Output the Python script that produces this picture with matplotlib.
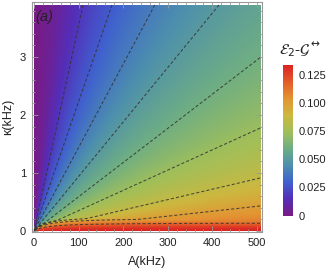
import numpy as np
import matplotlib
matplotlib.use("Agg")
import matplotlib.pyplot as plt
from matplotlib.colors import LinearSegmentedColormap

# ---- data ----
# field value versus the ratio kappa/A (read from contour positions and colours)
ratio_pts = [1e-6, 2.5e-4, 8.5e-4, 1.8e-3, 3.5e-3, 5.9e-3, 9.4e-3,
             1.44e-2, 2.23e-2, 3.55e-2, 6.5e-2, 0.1, 0.3, 10.0]
ratio_vals = [0.133, 0.113, 0.100, 0.086, 0.073, 0.061, 0.050,
              0.039, 0.028, 0.018, 0.008, 0.004, 0.001, 0.0]
# saturation band near kappa = 0 (thins out towards A = 0)
kappa_pts = [0.0, 0.04, 0.08, 0.14, 0.25, 0.4]
kappa_vals = [0.134, 0.131, 0.126, 0.115, 0.095, 0.0]
band_A0 = 30.0
contour_levels = [0.018, 0.028, 0.039, 0.050, 0.061, 0.073, 0.086, 0.100, 0.115]
A_range = [0, 507]
kappa_range = [0, 3.9]
x_ticks = [0, 100, 200, 300, 400, 500]
y_ticks = [0, 1, 2, 3]
cbar_ticks = [0, 0.025, 0.05, 0.075, 0.1, 0.125]
cbar_labels = ["0", "0.025", "0.050", "0.075", "0.100", "0.125"]
vmin, vmax = 0.0, 0.134

rainbow = [(0.471412, 0.108766, 0.527016), (0.33, 0.18, 0.72),
           (0.25, 0.38, 0.81), (0.30, 0.56, 0.68), (0.43, 0.68, 0.52),
           (0.63, 0.75, 0.35), (0.80, 0.72, 0.25), (0.89, 0.58, 0.20),
           (0.89, 0.36, 0.16), (0.857359, 0.131106, 0.132128)]
cmap = LinearSegmentedColormap.from_list("mma_rainbow", rainbow)

plt.rcParams['font.family'] = ['Liberation Sans', 'DejaVu Sans']

A = np.linspace(A_range[0], A_range[1], 600)
K = np.linspace(kappa_range[0], kappa_range[1], 600)
AA, KK = np.meshgrid(A, K)
Asafe = np.maximum(AA, 1e-9)
r = np.clip(KK / Asafe, 1e-6, 1e3)
Zr = np.interp(np.log10(r), np.log10(ratio_pts), ratio_vals)
k_eff = np.clip(KK * (1 + band_A0 / Asafe), 0, 1e3)
Zk = np.interp(k_eff, kappa_pts, kappa_vals)
Z = np.maximum(Zr, Zk)

fig = plt.figure(figsize=(3.32, 2.73), dpi=100)
ax = fig.add_axes([0.0949, 0.150, 0.694, 0.8425])
im = ax.imshow(Z, origin='lower', extent=[A_range[0], A_range[1], kappa_range[0], kappa_range[1]],
               aspect='auto', cmap=cmap, vmin=vmin, vmax=vmax, interpolation='bilinear')
ax.contour(AA, KK, Z, levels=contour_levels, colors='#333333', linewidths=0.75,
           linestyles=[(0, (3, 2))], alpha=0.85)
ax.set_xlim(-5.6, 511)
ax.set_ylim(-0.02, 3.95)

ax.set_xticks(x_ticks)
ax.set_xticklabels([str(v) for v in x_ticks])
ax.set_yticks(y_ticks)
ax.set_yticklabels([str(v) for v in y_ticks])
ax.set_xticks(np.arange(0, 511, 20), minor=True)
ax.set_yticks(np.arange(0, 3.95, 0.2), minor=True)
ax.tick_params(which='both', direction='in', top=True, right=True, color='#9a9a9a', width=0.6)
ax.tick_params(which='major', length=4, labelsize=8, labelcolor='#222222', pad=4)
ax.tick_params(which='minor', length=2)
for s in ax.spines.values():
    s.set_color('#9a9a9a')
    s.set_linewidth(0.8)

ax.set_xlabel('A(kHz)', fontsize=9, color='#222222')
ax.xaxis.set_label_coords(0.5, -0.105)
ax.set_ylabel('κ(kHz)', fontsize=9, color='#222222')
ax.yaxis.set_label_coords(-0.076, 0.5)
ax.text(0.015, 0.965, '(a)', transform=ax.transAxes, fontsize=10.5, style='italic',
        va='top', ha='left', color='#222222')

cax = fig.add_axes([0.8524, 0.2106, 0.0301, 0.5513])
cb = fig.colorbar(im, cax=cax, ticks=cbar_ticks)
cb.ax.set_yticklabels(cbar_labels)
cb.ax.tick_params(length=0, labelsize=8, labelcolor='#222222', pad=4)
cb.outline.set_visible(False)
fig.text(0.905, 0.815, r'$\mathcal{E}_2$-$\mathcal{G}^{\leftrightarrow}$', fontsize=11,
         ha='center', va='center', color='#222222')

fig.savefig('out.png', dpi=100)
